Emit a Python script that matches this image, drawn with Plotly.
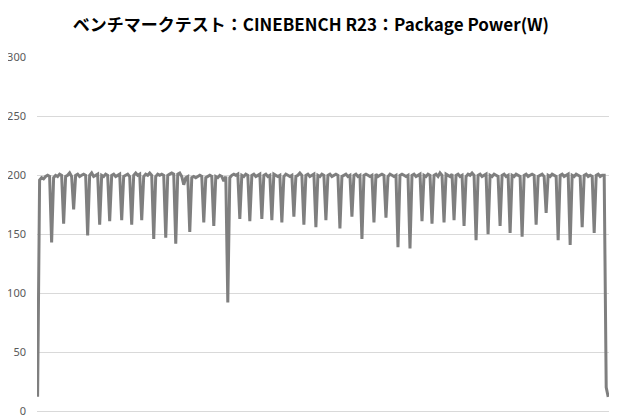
import plotly.graph_objects as go

chart_title = "ベンチマークテスト：CINEBENCH R23：Package Power(W)"

# Package Power (W), one value per sample
package_power = [
    12, 196, 198, 197, 199, 200, 199, 143, 198, 200,
    199, 201, 200, 159, 199, 200, 202, 199, 171, 200,
    201, 199, 200, 201, 200, 149, 200, 202, 199, 200,
    201, 158, 200, 199, 201, 200, 161, 200, 201, 199,
    200, 201, 162, 199, 200, 201, 199, 158, 200, 202,
    200, 201, 162, 199, 201, 200, 202, 200, 146, 199,
    201, 200, 201, 200, 147, 200, 201, 202, 201, 142,
    201, 202, 199, 192, 198, 199, 152, 198, 199, 198,
    199, 200, 199, 160, 198, 199, 200, 199, 157, 199,
    198, 200, 199, 195, 199, 92, 198, 200, 201, 200,
    201, 163, 200, 199, 201, 200, 161, 200, 201, 199,
    200, 201, 163, 200, 201, 199, 200, 162, 201, 200,
    199, 200, 160, 199, 201, 200, 199, 200, 165, 199,
    200, 202, 200, 158, 200, 201, 199, 200, 201, 156,
    200, 199, 201, 200, 162, 200, 201, 199, 200, 201,
    200, 155, 199, 200, 201, 199, 200, 165, 200, 201,
    199, 200, 146, 200, 201, 200, 199, 200, 160, 201,
    199, 200, 201, 200, 164, 199, 201, 200, 199, 200,
    139, 200, 201, 200, 199, 200, 138, 200, 201, 199,
    200, 201, 161, 200, 199, 201, 200, 159, 200, 201,
    199, 202, 200, 160, 201, 200, 199, 201, 162, 200,
    201, 199, 200, 157, 199, 201, 200, 202, 200, 145,
    200, 201, 199, 200, 201, 150, 200, 199, 201, 200,
    199, 157, 200, 201, 199, 200, 151, 200, 199, 201,
    200, 199, 148, 200, 201, 199, 200, 201, 200, 158,
    199, 200, 201, 199, 168, 200, 199, 201, 200, 199,
    145, 200, 201, 199, 200, 201, 141, 200, 199, 201,
    200, 199, 156, 200, 201, 199, 200, 199, 151, 200,
    201, 199, 200, 200, 20, 12,
]
samples = list(range(len(package_power)))

y_ticks = [0, 50, 100, 150, 200, 250, 300]

fig = go.Figure()
fig.add_trace(go.Scatter(
    x=samples, y=package_power, mode="lines",
    line=dict(color="#7f7f7f", width=3),
    hoverinfo="y",
))

# the page adds an 8px body margin, so the figure is a bit smaller
fig.update_layout(
    width=612, height=412,
    margin=dict(l=29, r=11, t=49, b=9),
    paper_bgcolor="white", plot_bgcolor="white",
    showlegend=False,
    title=dict(
        text=chart_title, x=0.495, xanchor="center", y=0.958, yanchor="middle",
        font=dict(family="Noto Sans CJK JP", size=17, color="#000000", weight="bold"),
    ),
    font=dict(family="Noto Sans CJK JP"),
)
fig.update_xaxes(
    range=[-0.3, len(package_power) - 0.6],
    showticklabels=False, showgrid=False, zeroline=False,
    showline=True, linecolor="#d9d9d9", linewidth=1, ticks="",
    automargin=False,
)
fig.update_yaxes(
    range=[0, 300.4], tickvals=y_ticks,
    showgrid=True, gridcolor="#d9d9d9", gridwidth=1,
    zeroline=False, showline=False, ticks="",
    tickfont=dict(family="Liberation Sans Narrow, Noto Sans", size=11, color="#595959"),
    ticklabelstandoff=10, automargin=False,
)

fig.write_html("out.html")
